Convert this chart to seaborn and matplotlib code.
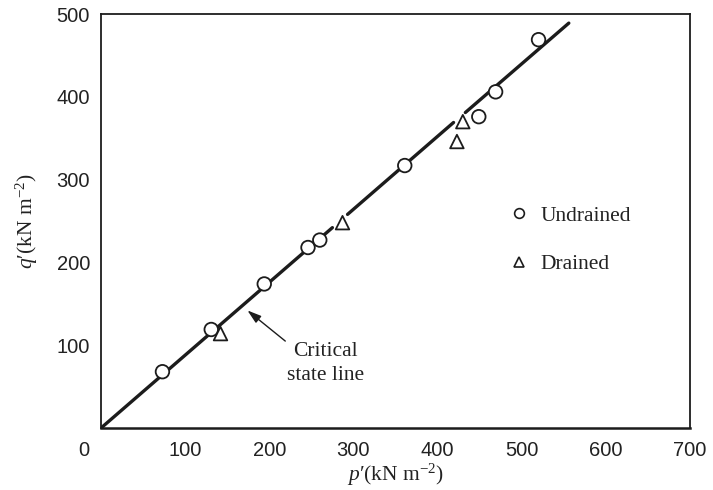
import matplotlib
matplotlib.use("Agg")
import matplotlib.pyplot as plt
import matplotlib.transforms as mtrans
from matplotlib.lines import Line2D
import seaborn as sns
import pandas as pd

# ---- data ----
undrained_p = [73, 131, 194, 246, 260, 361, 449, 469, 520]
undrained_q = [68, 119, 174, 218, 227, 317, 376, 406, 469]
drained_p = [142, 287, 423, 430]
drained_q = [114, 248, 346, 370]
# critical state line drawn in three pieces (gaps near the drained points)
csl_p = [0, 275, 293, 419, 433, 556]
csl_q = [0, 242, 258, 369, 381, 489]
csl_piece = [0, 0, 1, 1, 2, 2]
x_ticks = [0, 100, 200, 300, 400, 500, 600, 700]
x_tick_labels = ["0", "100", "200", "300", "400", "500", "600", "700"]
y_ticks = [100, 200, 300, 400, 500]
y_tick_labels = ["100", "200", "300", "400", "500"]
series_names = ["Undrained", "Drained"]

sns.set_theme(style="white")
plt.rcParams["font.family"] = ["Liberation Serif", "DejaVu Serif"]
plt.rcParams["mathtext.fontset"] = "custom"
plt.rcParams["mathtext.rm"] = "Liberation Serif"
plt.rcParams["mathtext.it"] = "Liberation Serif:italic"

pts = pd.DataFrame({
    "p": undrained_p + drained_p,
    "q": undrained_q + drained_q,
    "test": [series_names[0]] * len(undrained_p) + [series_names[1]] * len(drained_p),
})
line = pd.DataFrame({"p": csl_p, "q": csl_q, "piece": csl_piece})

fig = plt.figure(figsize=(7.13, 4.90), dpi=100)
ax = fig.add_axes([0.1417, 0.1265, 0.9677 - 0.1417, 0.9714 - 0.1265])

ink = "#1c1c1c"
sns.lineplot(data=line, x="p", y="q", units="piece", estimator=None, sort=False,
             color=ink, lw=2.4, ax=ax, legend=False, zorder=2)
sns.scatterplot(data=pts, x="p", y="q", style="test",
                markers={series_names[0]: "o", series_names[1]: "^"},
                s=95, facecolor="white", edgecolor=ink, linewidth=1.3,
                ax=ax, legend=False, zorder=3)

ax.set_xlim(0, 700)
ax.set_ylim(0, 500)
ax.set_xticks(x_ticks)
ax.set_xticklabels(x_tick_labels, family="Liberation Sans", fontsize=14.5, color="#222222")
ax.set_yticks(y_ticks)
ax.set_yticklabels(y_tick_labels, family="Liberation Sans", fontsize=14.5, color="#222222")
ax.tick_params(direction="in", length=9.5, width=1.1, color=ink, pad=9)
ax.tick_params(axis="y", pad=8)
# shift the shared origin label "0" to the left of the corner
lab0 = ax.get_xticklabels()[0]
lab0.set_transform(lab0.get_transform() + mtrans.ScaledTranslation(-17 / 100, 0, fig.dpi_scale_trans))

for sp in ax.spines.values():
    sp.set_color(ink)
    sp.set_linewidth(1.3)
ax.spines["bottom"].set_linewidth(1.8)

ax.set_xlabel("$p$\u2032(kN m$^{-2}$)", fontsize=15.5, color="#222222", labelpad=2)
ax.set_ylabel("$q$\u2032(kN m$^{-2}$)", fontsize=15.5, color="#222222", labelpad=12)

# annotation for the critical state line
ax.annotate("", xy=(174, 142), xytext=(219, 105),
            arrowprops=dict(arrowstyle="-|>,head_length=0.7,head_width=0.22",
                            color=ink, lw=1.0, shrinkA=0, shrinkB=0))
ax.text(267, 78, "Critical\nstate line", ha="center", va="center",
        fontsize=15.5, color="#222222", linespacing=1.3)

handles = [
    Line2D([], [], marker="o", ls="none", markersize=7, markerfacecolor="white",
           markeredgecolor=ink, markeredgewidth=1.2, label=series_names[0]),
    Line2D([], [], marker="^", ls="none", markersize=7, markerfacecolor="white",
           markeredgecolor=ink, markeredgewidth=1.2, label=series_names[1]),
]
leg = ax.legend(handles=handles, loc="upper left", bbox_to_anchor=(0.6955, 0.5375),
                frameon=False, fontsize=15.5, handlelength=0.8, handletextpad=0.6,
                labelspacing=1.34, borderpad=0, borderaxespad=0)
for t in leg.get_texts():
    t.set_color("#222222")

fig.savefig("out.png", dpi=100)
